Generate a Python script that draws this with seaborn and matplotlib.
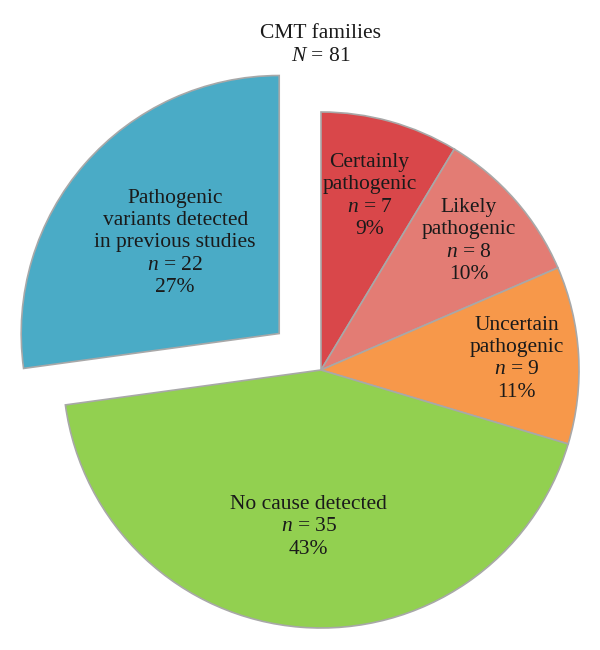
import numpy as np
import matplotlib
matplotlib.use("Agg")
import matplotlib.pyplot as plt
import seaborn as sns

categories = ["Certainly\npathogenic", "Likely\npathogenic", "Uncertain\npathogenic",
              "No cause detected", "Pathogenic\nvariants detected\nin previous studies"]
counts = [7, 8, 9, 35, 22]
percents = ["9%", "10%", "11%", "43%", "27%"]
total_label = "CMT families\n$N$ = 81"

colors = sns.color_palette(["#d9474a", "#e37c74", "#f7984a", "#92d050", "#4aabc6"])
explode = [0, 0, 0, 0, 0.215]
label_r = [0.70, 0.76, 0.76, 0.61, 0.535]

sns.set_theme(style="white")
plt.rcParams["font.family"] = ["Liberation Serif", "DejaVu Serif"]
plt.rcParams["mathtext.fontset"] = "custom"
plt.rcParams["mathtext.rm"] = "Liberation Serif"
plt.rcParams["mathtext.it"] = "Liberation Serif:italic"

S = 258.0
fig = plt.figure(figsize=(6, 6.5), dpi=100)
ax = fig.add_axes([0, 0, 1, 1])
wedges, _ = ax.pie(counts, colors=colors, startangle=90, counterclock=False,
                   explode=explode, radius=1.0,
                   wedgeprops=dict(edgecolor="#a8a8a8", linewidth=1.2))

for w, cat, n, p, r in zip(wedges, categories, counts, percents, label_r):
    mid = np.deg2rad((w.theta1 + w.theta2) / 2)
    cx, cy = w.center
    ax.text(cx + r * np.cos(mid), cy + r * np.sin(mid),
            f"{cat}\n$n$ = {n}\n{p}", ha="center", va="center",
            fontsize=15.5, color="#1a1a1a", linespacing=1.24)

ax.text(0, 325 / S, total_label, ha="center", va="center", fontsize=15.5,
        color="#1a1a1a", linespacing=1.3)

ax.set_aspect("equal")
ax.set_xlim(-321 / S, 279 / S)
ax.set_ylim(-280 / S, 370 / S)
ax.axis("off")
fig.savefig("out.png", dpi=100, facecolor="white")
